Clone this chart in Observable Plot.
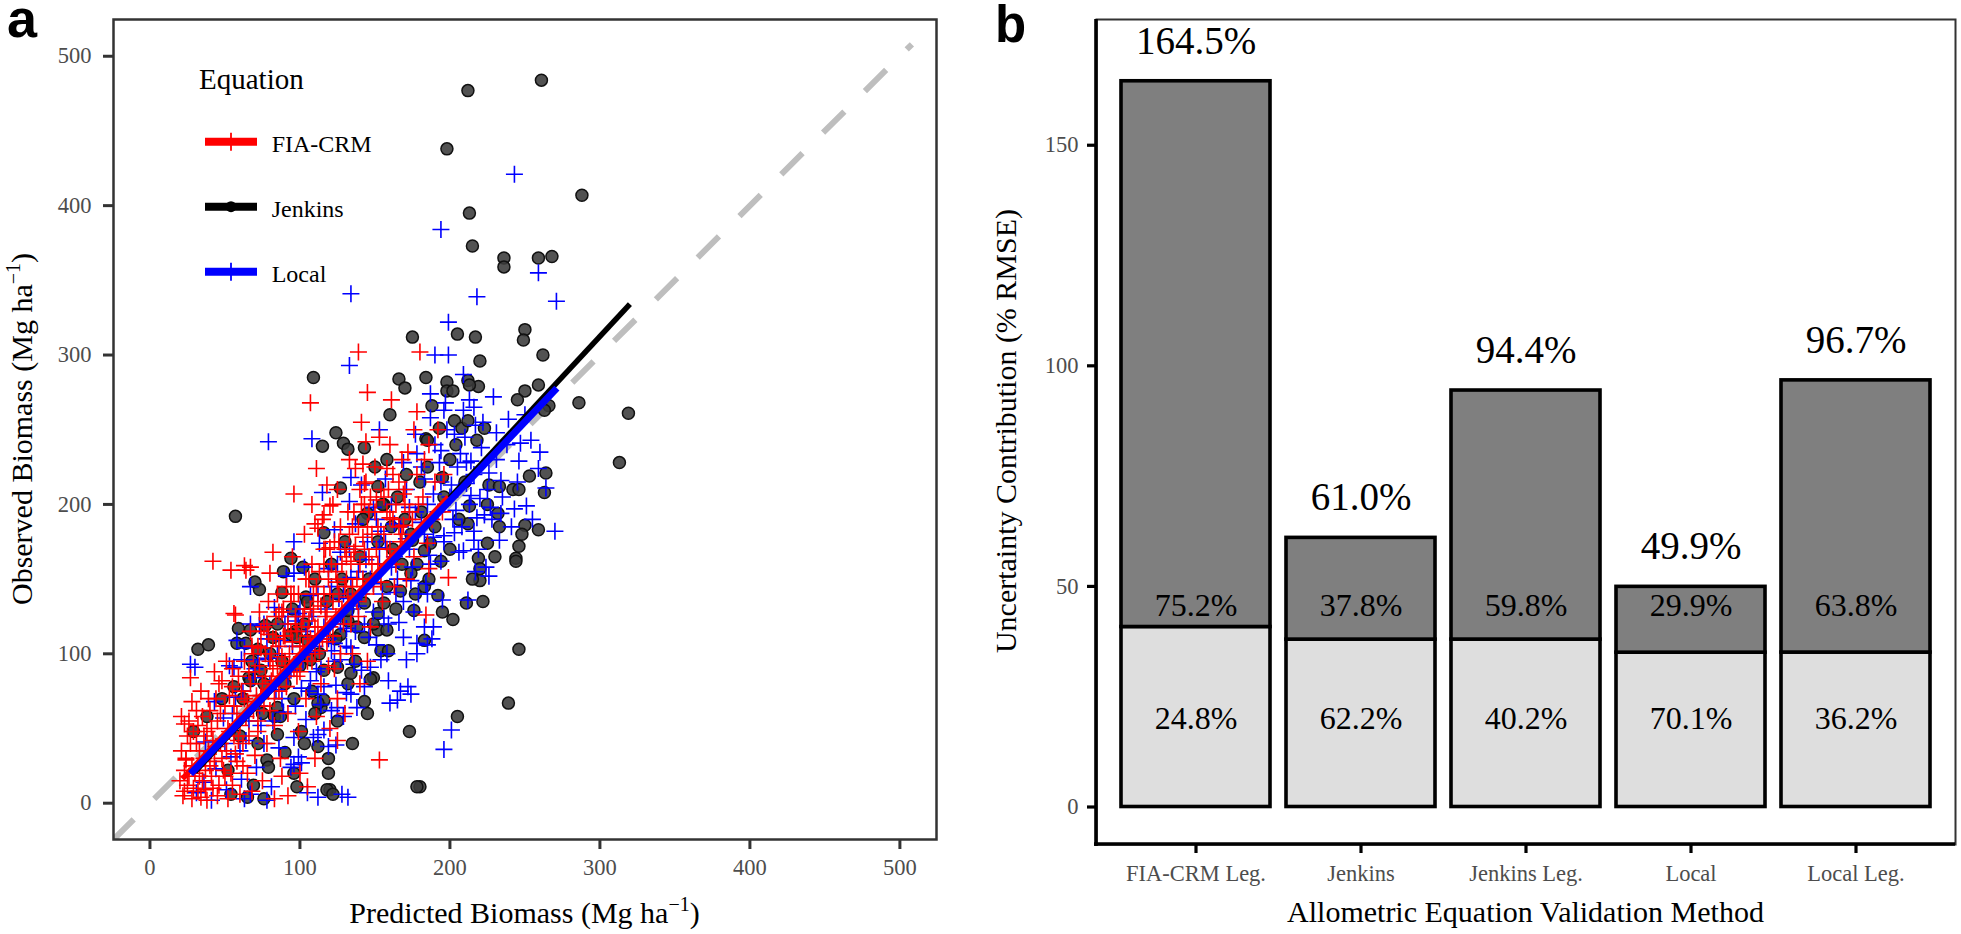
<!DOCTYPE html>
<html><head><meta charset="utf-8">
<script src="https://cdn.jsdelivr.net/npm/d3@7"></script>
<script src="https://cdn.jsdelivr.net/npm/@observablehq/plot@0.6"></script>
<style>
html,body{margin:0;padding:0;background:#fff;}
#wrap{position:relative;width:1961px;height:934px;overflow:hidden;background:#fff;}
#pa,#pb{position:absolute;top:0;}
#pa{left:0;} #pb{left:960px;}
</style></head><body><div id="wrap"><div id="pa"></div><div id="pb"></div></div>
<script>
// ---------------- DATA: panel a (predicted, observed) ----------------
const fiaCrm = [[139,302],[180,302],[107,268],[144,242],[111,224],[178,262],[96,207],[108,200],[82,168],[42,162],[116,170],[120,199],[112,184],[142,227],[158,224],[169,207],[63,159],[153,29],[28,68],[21,58],[23,53],[24,29],[27,84],[56,127],[54,156],[67,158],[80,154],[94,140],[86,128],[79,113],[74,104],[125,42],[92,5],[105,11],[83,3],[64,156],[57,126],[118,213],[122,200],[116,193],[110,187],[120,171],[137,224],[143,214],[151,203],[160,191],[168,180],[185,174],[186,157],[199,151],[184,126],
[22,5],[25,12],[28,3],[30,20],[32,8],[35,15],[38,2],[40,25],[42,10],[45,5],[48,30],[50,18],[52,3],[55,12],[58,28],[60,6],[24,30],[27,40],[33,35],[36,45],[41,50],[44,38],[47,60],[53,48],[56,65],[59,42],[26,55],[31,62],[34,75],[39,70],[43,88],[46,80],[51,95],[55,78],[29,48],[37,22],[62,40],[65,20],[68,8],[70,32],[72,55],[75,15],[63,70],[66,88],[69,100],[74,72],
[78,40],[80,62],[82,90],[84,110],[86,75],[88,128],[90,95],[92,60],[94,115],[96,140],[98,85],[100,105],[102,125],[104,70],[106,150],[108,95],[110,118],[112,135],[114,80],[116,160],[118,108],[120,140],[76,118],[79,135],[83,52],[87,30],[91,145],[95,165],[99,48],[103,180],[107,130],[111,58],[115,190],[119,92],[72,105],[81,100],[89,112],[93,88],[97,120],[101,98],[105,112],[109,140],[113,102],[117,125],[85,140],[77,85],[73,128],[67,115],
[122,112],[124,155],[126,175],[128,130],[130,145],[132,195],[134,120],[136,168],[138,150],[140,210],[142,178],[144,140],[146,195],[148,160],[150,225],[152,185],[154,148],[156,205],[158,170],[160,240],[162,190],[164,160],[166,215],[169,186],[170,200],[172,235],[175,190],[178,220],[182,205],[186,240],[190,215],[195,195],[123,90],[127,100],[131,165],[135,185],[139,125],[143,200],[147,118],[151,170],[155,135],[159,210],[163,145],[167,175],[171,150],[176,165],[125,210],[133,230],[141,255],[153,245],[161,270],[145,275],
[100,20],[110,30],[88,18],[130,60],[140,80],[120,50],[135,100],[145,95],[125,70],[20,15],[23,22],
[21,35],[23,8],[25,45],[26,18],[28,25],[29,10],[31,40],[32,52],[33,18],[34,4],[35,58],[36,30],[37,9],[38,48],[39,35],[40,62],[41,18],[42,42],[43,28],[44,70],[45,55],[46,12],[47,40],[48,82],[49,22],[50,65],[51,35],[52,50],[53,72],[54,20],[55,90],[56,45],[57,33],[58,60],[59,85],[60,52],[61,75],[62,25],[63,95],[64,58],[65,68],[66,45],[67,80],[68,105],[69,62],[70,88],[71,72],[72,48],[73,92],[74,115],[75,80],[76,65],[77,100],[78,120],[79,75],[80,95],[81,82],[82,110],[83,70],[84,125],[85,92],[86,105],[87,85],[88,98],[89,130],[90,112],[91,78],[92,120],[93,100],[94,135],[95,108],[96,90],[97,125],[98,115],[99,140],[100,88],[101,118],[102,105],[103,130],[104,150],[105,95],[106,122],[107,110],[108,160],[109,128],[110,100],[111,145],[112,118],[113,155],[114,132],[115,110],[116,140],[117,170],[118,128],[119,150],[120,118],[121,160],[122,135],[123,175],[124,125],[125,148],[126,140],[127,185],[128,160],[129,120],[130,170],[131,150],[132,138],[133,180],[134,162],[135,145],[136,195],[137,172],[138,135],[139,185],[140,160],[141,200],[142,150],[143,170],[144,215],[145,185],[146,165],[147,205],[148,180],[149,145],[150,195],[152,160],[154,210],[156,180],[158,195],[160,170],[162,220],[164,200],[166,185],[168,230],[170,210],[173,195],[176,250],[179,200],[183,230],[188,190],[192,250],[196,220]];

const jenkins = [[261,484],[212,477],[198,438],[288,407],[213,395],[215,373],[236,365],[236,359],[259,365],[268,366],[205,314],[217,312],[250,317],[249,310],[262,300],[220,296],[175,312],
[259,280],[250,276],[245,270],[286,268],[266,266],[263,263],[319,261],[184,285],[198,282],[198,276],[202,276],[212,283],[219,279],[213,280],[188,266],[203,256],[208,251],[212,256],[193,251],[223,251],[184,244],[185,243],[204,240],[218,243],[313,228],[253,219],[264,221],[263,208],[226,213],[233,212],[242,210],[246,210],[200,230],[185,225],[195,218],[213,199],[250,186],[248,180],[259,183],[246,172],[244,164],[233,185],[225,174],[219,164],[212,187],[232,194],[194,162],[183,169],[187,174],
[109,285],[166,284],[170,278],[160,260],[124,248],[115,239],[129,241],[132,237],[143,238],[150,225],[158,230],[57,192],[116,181],[127,211],[152,212],[156,200],[145,194],[94,164],[170,190],[175,176],[165,205],[180,215],[162,170],[178,160],
[246,103],[239,67],[205,58],[222,135],[211,134],[202,123],[195,128],[192,139],[220,149],[220,157],[180,11],[244,162],[183,109],
[32,103],[39,106],[59,117],[67,116],[58,107],[64,107],[72,103],[77,119],[70,148],[73,143],[88,141],[104,138],[105,135],[102,158],[89,155],[38,58],[29,48],[56,78],[66,84],[97,115],[82,111],[101,48],[103,40],[112,38],[90,34],[96,20],[98,11],[119,30],[119,20],[120,9],[118,9],[122,6],[76,3],[65,4],[54,6],[69,12],[52,22],[85,46],[78,29],[79,24],[173,48],[178,11],[145,60],[143,68],[149,84],[147,83],[132,80],[134,87],[114,64],[116,69],[112,67],[85,64],[83,58],[87,58],[67,82],[74,89],[76,80],[94,113],[98,111],[105,109],[107,96],[116,89],[125,91],[127,113],[132,122],[138,118],[143,111],[152,116],[158,116],[154,102],[159,102],[125,140],[132,129],[143,134],[152,127],[156,134],[167,142],[176,129],[183,145],[174,154],
[62,70],[68,95],[75,60],[80,100],[85,120],[90,80],[95,130],[100,92],[103,120],[108,75],[110,150],[113,100],[118,135],[121,160],[124,110],[128,150],[130,175],[134,140],[137,95],[140,165],[142,190],[146,150],[149,120],[152,175],[155,200],[158,145],[161,185],[164,130],[168,160],[171,220],[174,180],[177,140],[181,195],[186,150],[190,185],[196,205],[200,170],[206,190],[210,215],[215,150],[225,200],[230,165],[110,60],[125,55],[135,40],[96,70],[88,95],[72,40],[60,45],[48,70]];

const local = [[243,421],[194,384],[259,355],[218,339],[271,336],[199,322],[190,300],[199,300],[134,341],[133,293],[79,242],[108,244],[153,250],[115,208],[178,234],[96,175],[134,218],[270,182],[247,241],[260,235],[209,287],[216,265],[213,270],[187,274],[196,263],[194,236],[207,234],[214,229],[220,204],[227,198],[234,194],[218,191],[209,169],[216,176],[203,181],[189,178],[201,49],[196,36],[212,136],[226,152],[217,155],[189,118],[188,110],[185,106],[195,136],[185,140],[27,93],[30,91],[172,78],[167,75],[165,69],[174,73],[160,67],[105,7],[112,4],[128,6],[132,4],[67,6],[63,3],[78,2],[124,39],[119,38],[116,49],[112,46],[94,24],[96,26],[101,27],[129,58],[125,64],[134,73],[143,78],[138,64],[154,96],[158,100],[147,91],[169,111],[178,107],[183,118],[178,100],[67,120],[76,120],[58,109],[56,91],[61,96],[72,96],[98,122],[92,125],[96,154],[67,145],[112,73],[116,78],[107,82],[123,107],[134,104],[127,96],
[31,7],[36,14],[41,2],[44,23],[51,9],[54,31],[61,16],[64,42],[71,24],[74,52],[81,11],[86,37],[89,61],[96,44],[101,77],[104,56],[111,88],[114,66],[121,102],[124,79],[131,117],[136,93],[139,132],[146,111],[149,147],[156,124],[161,158],[164,141],[171,177],[174,149],[181,188],[186,166],[189,207],[196,179],[201,213],[204,196],[211,228],[214,206],[221,238],[226,221],[231,248],[234,216],[239,257],[246,229],[251,199],[254,243],[259,224],[264,211],
[37,41],[49,57],[57,71],[69,84],[79,97],[87,109],[99,127],[107,139],[119,157],[127,168],[137,187],[149,198],[157,217],[169,228],[177,247],[187,258],[197,268],[209,263],[217,253],[229,272],[43,68],[53,92],[63,104],[73,119],[83,131],[91,152],[103,158],[113,174],[123,183],[133,202],[141,213],[153,171],[163,187],[173,198],[183,217],[193,228],[203,247],[211,214],[223,193],[233,176],[243,197],[84,76],[94,89],[106,101],[116,118],[126,137],[134,151],[144,163],[154,182],[166,121],[176,128],[184,147],[194,162],[206,168],[216,182],[224,158],[99,31],[109,44],[121,62],[131,74],[141,89],[151,106],[159,82],[171,96],
[50,40],[55,60],[60,35],[62,75],[66,55],[70,90],[73,65],[76,40],[78,110],[80,80],[82,55],[85,100],[88,70],[90,120],[92,85],[95,105],[97,65],[100,130],[102,95],[104,115],[106,75],[108,125],[110,105],[112,140],[114,90],[117,130],[119,110],[121,145],[123,95],[125,160],[127,120],[129,140],[131,105],[133,170],[135,130],[137,115],[139,155],[141,140],[143,120],[145,175],[147,150],[149,128],[151,190],[153,160],[155,140],[157,175],[159,120],[161,200],[163,165],[165,150],[167,185],[169,135],[171,210],[173,170],[175,158],[177,195],[179,140],[181,225],[183,180],[185,200],[187,160],[190,240],[192,195],[194,215],[196,175],[198,250],[200,205],[202,190],[205,225],[208,185],[210,245],[213,200],[216,220],[219,170],[222,255],[225,210],[228,190],[231,230],[235,205],[238,240],[241,185],[245,215],[250,260],[255,190]];

// fitted lines (predicted range, fitted observed)
const fitFiaPred = [21.6, 199], fitFiaObs = [16.3, 205];
const fitJenPred = [30, 320], fitJenObs = [21, 334];
const fitLocPred = [27.1, 271.3], fitLocObs = [19.7, 277.8];
const oneToOne = [-25, 508];
const ticksA = [0, 100, 200, 300, 400, 500];

// ---------------- DATA: panel b ----------------
const methods = ["FIA-CRM Leg.", "Jenkins", "Jenkins Leg.", "Local", "Local Leg."];
const totalRmse = [164.5, 61.0, 94.4, 49.9, 96.7];
const lowerShare = [24.8, 62.2, 40.2, 70.1, 36.2];
const upperShare = [75.2, 37.8, 59.8, 29.9, 63.8];
const ticksB = [0, 50, 100, 150];

// ---------------- helpers ----------------
const serif = "'Liberation Serif','Times New Roman',serif";
const grey30 = "#4d4d4d";
const crossSym = {draw(ctx, size){const r = Math.sqrt(size/Math.PI); ctx.moveTo(-r,0); ctx.lineTo(r,0); ctx.moveTo(0,-r); ctx.lineTo(0,r);}};
const pairs = (xs, ys) => xs.map((x,i)=>[x, ys[i]]);

// ---------------- Panel a ----------------
const pa = Plot.plot({
  width: 960, height: 934,
  marginLeft: 113, marginRight: 24, marginTop: 19, marginBottom: 95,
  style: {fontFamily: serif, background: "white", overflow: "visible"},
  x: {domain: [-24.3, 524.4]},
  y: {domain: [-24.3, 524.6]},
  marks: [
    Plot.line(pairs(oneToOne, oneToOne), {stroke: "#bebebe", strokeWidth: 6, strokeDasharray: "30 29", strokeLinecap: "butt", clip: true}),
    Plot.dot(jenkins, {x: d=>d[0], y: d=>d[1], r: 6, fill: "#3a3a3a", fillOpacity: 0.88, stroke: "#111", strokeWidth: 1.5}),
    Plot.dot(local, {x: d=>d[0], y: d=>d[1], r: 8.5, symbol: crossSym, fill: "none", stroke: "#0000ff", strokeWidth: 1.6}),
    Plot.dot(fiaCrm, {x: d=>d[0], y: d=>d[1], r: 8.5, symbol: crossSym, fill: "none", stroke: "#ff0000", strokeWidth: 1.6}),
    Plot.line(pairs(fitJenPred, fitJenObs), {stroke: "black", strokeWidth: 5.5, strokeLinecap: "butt"}),
    Plot.line(pairs(fitFiaPred, fitFiaObs), {stroke: "#ff0000", strokeWidth: 5.5, strokeLinecap: "butt"}),
    Plot.line(pairs(fitLocPred, fitLocObs), {stroke: "#0000ff", strokeWidth: 7, strokeLinecap: "butt"}),
    Plot.frame({stroke: "#333", strokeWidth: 2.5}),
    Plot.axisX({ticks: ticksA, tickSize: 10, tickPadding: 10, fontSize: 22.5, strokeWidth: 3, stroke: "#333", label: null}),
    Plot.axisY({ticks: ticksA, tickSize: 10, tickPadding: 12, fontSize: 22.5, strokeWidth: 3, stroke: "#333", label: null})
  ]
});
document.getElementById("pa").appendChild(pa);

// ---------------- Panel b ----------------
const rows = methods.map((m,i)=>({m, total: totalRmse[i], lower: totalRmse[i]*lowerShare[i]/100, lo: lowerShare[i], up: upperShare[i]}));
const pb = Plot.plot({
  width: 1001, height: 934,
  marginLeft: 136, marginRight: 6, marginTop: 19, marginBottom: 90,
  style: {fontFamily: serif, background: "white", overflow: "visible"},
  x: {type: "band", domain: methods, paddingInner: 0.1, paddingOuter: 0.15},
  y: {domain: [-8.5, 178.5]},
  marks: [
    Plot.frame({stroke: "#333", strokeWidth: 2}),
    Plot.barY(rows, {x: "m", y1: d=>0, y2: "lower", fill: "#dedede", stroke: "black", strokeWidth: 3.6}),
    Plot.barY(rows, {x: "m", y1: "lower", y2: "total", fill: "#7f7f7f", stroke: "black", strokeWidth: 3.6}),
    Plot.text(rows, {x: "m", y: "total", dy: -40, text: d=>d.total.toFixed(1)+"%", fontSize: 39, fill: "black"}),
    Plot.text(rows, {x: "m", y: d=>45.7, text: d=>d.up.toFixed(1)+"%", fontSize: 32, fill: "black"}),
    Plot.text(rows, {x: "m", y: d=>19.9, text: d=>d.lo.toFixed(1)+"%", fontSize: 32, fill: "black"}),
    Plot.axisX({tickSize: 9, tickPadding: 12, fontSize: 22.5, strokeWidth: 3.2, stroke: "black", label: null}),
    Plot.axisY({ticks: ticksB, tickSize: 9, tickPadding: 9, fontSize: 22.5, strokeWidth: 3.2, stroke: "black", label: null})
  ]
});
document.getElementById("pb").appendChild(pb);

// tick label colours
for (const s of [pa, pb]) {
  d3.select(s).selectAll("[aria-label='x-axis tick label'] text, [aria-label='y-axis tick label'] text").attr("fill", grey30);
  d3.select(s).selectAll("[aria-label='x-axis tick label'], [aria-label='y-axis tick label']").attr("fill", grey30);
}

// thick axis lines on panel b (left and bottom)
{
  const g = d3.select(pb).append("g");
  g.append("line").attr("x1", 136).attr("x2", 136).attr("y1", 19).attr("y2", 846).attr("stroke", "black").attr("stroke-width", 3.6);
  g.append("line").attr("x1", 134).attr("x2", 995).attr("y1", 844).attr("y2", 844).attr("stroke", "black").attr("stroke-width", 3.6);
}

// axis titles
function title(svg, x, y, rot, parts) {
  const t = d3.select(svg).append("text").attr("font-family", serif).attr("font-size", 30).attr("fill", "black")
    .attr("text-anchor", "middle").attr("transform", `translate(${x},${y}) rotate(${rot})`);
  for (const p of parts) {
    const ts = t.append("tspan").text(p.t);
    if (p.sup) ts.attr("font-size", 20).attr("dy", -12);
    if (p.after) ts.attr("dy", 12);
  }
}
title(pa, 524.5, 923, 0, [{t: "Predicted Biomass (Mg ha"}, {t: "\u22121", sup: true}, {t: ")", after: true}]);
title(pa, 32, 429, -90, [{t: "Observed Biomass (Mg ha"}, {t: "\u22121", sup: true}, {t: ")", after: true}]);
title(pb, 565.5, 922, 0, [{t: "Allometric Equation Validation Method"}]);
title(pb, 56, 431, -90, [{t: "Uncertainty Contribution (% RMSE)"}]);

// panel letters
d3.select(pa).append("text").attr("x", 7).attr("y", 37).attr("text-anchor", "start").attr("font-family", "'Liberation Sans',Arial,sans-serif").attr("font-weight", "bold").attr("font-size", 54).text("a");
d3.select(pb).append("text").attr("x", 35).attr("y", 41.5).attr("text-anchor", "start").attr("font-family", "'Liberation Sans',Arial,sans-serif").attr("font-weight", "bold").attr("font-size", 51).text("b");

// legend (panel a)
{
  const g = d3.select(pa).append("g").attr("font-family", serif).attr("text-anchor", "start");
  g.append("text").attr("x", 199).attr("y", 89).attr("font-size", 29).text("Equation");
  const items = [
    {label: "FIA-CRM", color: "#ff0000", y: 141.7, kind: "cross"},
    {label: "Jenkins", color: "black", y: 206.7, kind: "dot"},
    {label: "Local", color: "#0000ff", y: 271.7, kind: "cross"}
  ];
  for (const it of items) {
    g.append("line").attr("x1", 205).attr("x2", 257).attr("y1", it.y).attr("y2", it.y).attr("stroke", it.color).attr("stroke-width", 8);
    if (it.kind === "cross") {
      g.append("line").attr("x1", 231).attr("x2", 231).attr("y1", it.y-9).attr("y2", it.y+9).attr("stroke", it.color).attr("stroke-width", 1.8);
    } else {
      g.append("circle").attr("cx", 231).attr("cy", it.y).attr("r", 5.5).attr("fill", "black");
    }
    g.append("text").attr("x", 271.7).attr("y", it.y + 10).attr("font-size", 24).text(it.label);
  }
}
</script></body></html>
